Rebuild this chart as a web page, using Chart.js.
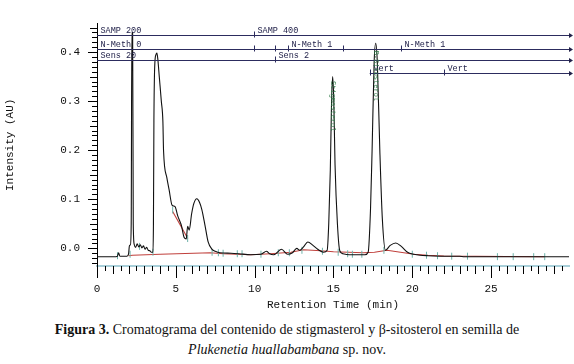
<!DOCTYPE html>
<html>
<head>
<meta charset="utf-8">
<script src="https://cdn.jsdelivr.net/npm/chart.js@4.4.1/dist/chart.umd.min.js"></script>
<style>
  body { margin: 0; background: #fff; }
  #wrap { position: relative; width: 574px; height: 364px; }
  #box { position: absolute; left: 0; top: 0; width: 574px; height: 318px; }
  #caption {
    position: absolute; left: 0; top: 320px; width: 574px;
    text-align: center; font: 14px "Liberation Serif", serif; line-height: 20px; color: #111;
  }
</style>
</head>
<body>
<div id="wrap">
  <div id="box"><canvas id="chroma"></canvas></div>
  <div id="caption">
    <div><b>Figura 3.</b> Cromatograma del contenido de stigmasterol y β-sitosterol en semilla de</div>
    <div><i>Plukenetia huallabambana</i> sp. nov.</div>
  </div>
</div>
<script>

// ----------------- DATA ----------------------------------------------------

// detector trace: retention time (min) and intensity (AU)
const traceTime = [0, 1.2, 1.3, 1.37, 1.45, 1.9, 2.0, 2.06, 2.12, 2.17, 2.21, 2.26, 2.3, 2.36, 2.45, 2.55, 2.65, 2.75, 2.85, 2.95, 3.05, 3.15, 3.25, 3.35, 3.45,
  3.55, 3.58, 3.61, 3.66, 3.74, 3.80, 3.86, 3.95, 4.08, 4.18, 4.22, 4.43, 4.57, 4.76, 4.95, 5.12, 5.35, 5.53, 5.66, 5.75, 5.85, 6.0, 6.15, 6.33, 6.5, 6.65, 6.85, 7.05, 7.3, 7.5,
  7.8, 8.5, 9.0, 9.75, 10.4, 10.75, 10.95, 11.2, 11.7, 12.1, 12.4, 12.67, 12.86, 13.1, 13.37, 13.7, 14.0, 14.37,
  14.6, 14.7, 14.8, 14.88, 14.95, 15.02, 15.1, 15.25, 15.4, 15.6, 16.0, 16.5, 17.0,
  17.2, 17.35, 17.45, 17.58, 17.68, 17.78, 17.94, 18.1, 18.3, 18.6, 18.95, 19.3, 19.7, 20.1, 20.5, 21.0, 22.0, 23.0, 23.3, 29.94];
const traceAU = [-0.017, -0.017, -0.016, -0.009, -0.016, -0.016, -0.012, 0.006, 0.007, 0.05, 0.44, 0.44, 0.05, 0.008, 0.002, 0.009, 0.003, 0.007, 0.001, 0.005, -0.002, 0.002, -0.004, -0.005, -0.008,
  -0.008, 0.05, 0.26, 0.37, 0.395, 0.398, 0.385, 0.35, 0.3, 0.258, 0.2, 0.144, 0.12, 0.088, 0.085, 0.066, 0.047, 0.022, 0.019, 0.045, 0.037, 0.07, 0.092, 0.101, 0.094, 0.079, 0.047, 0.013, -0.002, -0.006,
  -0.009, -0.01, -0.011, -0.013, -0.012, -0.006, -0.011, -0.013, -0.002, -0.012, -0.009, 0.0, -0.004, 0.003, 0.013, 0.006, -0.002, -0.008,
  -0.004, 0.05, 0.16, 0.3, 0.35, 0.3, 0.17, 0.05, -0.005, -0.011, -0.013, -0.013, -0.013,
  -0.008, 0.08, 0.2, 0.38, 0.418, 0.38, 0.2, 0.06, -0.004, 0.006, 0.011, 0.004, -0.008, -0.012, -0.014, -0.015, -0.016, -0.016, -0.017, -0.017];

// integration baseline (red) and the tangent skim under the shoulder
const baseTime = [2.0, 2.25, 4.0, 7.2, 8.0, 9.75, 11.0, 12.3, 13.1, 14.2, 15.0, 16.9, 17.6, 18.4, 20.1, 21.0, 22.0, 24.0, 26.0, 28.4];
const baseAU = [-0.015, -0.014, -0.012, -0.009, -0.011, -0.013, -0.011, -0.008, -0.003, -0.005, -0.007, -0.009, -0.008, -0.004, -0.012, -0.014, -0.0155, -0.016, -0.0165, -0.017];
const skimTime = [4.8, 5.76];
const skimAU = [0.075, 0.02];

// peak start / end marks
const markTime = [1.3, 2.1, 2.7, 3.55, 4.8, 5.75, 7.3, 7.7, 8.0, 8.9, 9.2, 10.4, 11.5, 12.2, 13.0, 14.3, 15.3, 15.9, 16.2, 16.8, 18.2, 20.0, 20.9, 21.6, 22.5, 23.5, 25.4, 26.4, 27.7, 28.4];
const markAU = [-0.015, -0.012, 0.004, -0.008, 0.078, 0.02, -0.008, -0.009, -0.01, -0.011, -0.011, -0.012, -0.009, -0.009, -0.004, -0.006, -0.008, -0.011, -0.012, -0.012, -0.004, -0.012, -0.014, -0.015, -0.016, -0.016, -0.017, -0.017, -0.017, -0.017];

// peak names written down the two sterol peaks
const peakNames = ['Stigmasterol', 'B-Sitosterol'];
const peakTime = [14.95, 17.68];
const peakTopAU = [0.345, 0.407];

// timed events bars across the top
const eventRowAU = [0.434, 0.406, 0.383, 0.357];
const eventTime = [0, 9.94, 0, 9.94, 11.27, 12.1, 15.6, 19.3, 0, 11.27, 17.3, 22.0];
const eventRow = [0, 0, 1, 1, 1, 1, 1, 1, 2, 2, 3, 3];
const eventLabels = ['SAMP 200', 'SAMP 400', 'N-Meth 0', '', '', 'N-Meth 1', '', 'N-Meth 1', 'Sens 20', 'Sens 2', 'Vert', 'Vert'];

// axes
const xMin = 0, xMax = 29.94;
const yMin = -0.036, yMax = 0.458;
const xLabelStep = 5;
const yLabelStep = 0.1;

const MONO = '"Liberation Mono", "DejaVu Sans Mono", monospace';

function pts(xs, ys) {
    return xs.map((x, i) => ({ x: x, y: ys[i] }));
}

// ----------------- PLUGINS ------------------------------------------------

// tick marks of three lengths, drawn on the library's scales
const tickMarks = {
    id: 'tickMarks',
    afterDraw(chart) {
        const { ctx, chartArea, scales: { x, y } } = chart;
        ctx.save();
        ctx.strokeStyle = '#000';
        ctx.lineWidth = 1;
        ctx.beginPath();
        for (let i = 0; i * 0.5 <= xMax; i++) {
            const px = Math.round(x.getPixelForValue(i * 0.5)) + 0.5;
            const len = i % 10 === 0 ? 12 : (i % 2 === 0 ? 8 : 5);
            ctx.moveTo(px, chartArea.bottom);
            ctx.lineTo(px, chartArea.bottom + len);
        }
        for (let j = Math.ceil(yMin * 100); j <= Math.floor(yMax * 100); j++) {
            const py = Math.round(y.getPixelForValue(j / 100)) + 0.5;
            const len = j % 10 === 0 ? 9 : (j % 5 === 0 ? 7 : 5);
            ctx.moveTo(chartArea.left - len, py);
            ctx.lineTo(chartArea.left, py);
        }
        ctx.stroke();
        ctx.restore();
    }
};

// event bars with arrows, and the green peak names
const eventBars = {
    id: 'eventBars',
    afterDatasetsDraw(chart) {
        const { ctx, chartArea, scales: { x, y } } = chart;
        ctx.save();
        ctx.strokeStyle = '#2c2c5e';
        ctx.fillStyle = '#22224a';
        ctx.lineWidth = 1;
        ctx.font = '8.5px ' + MONO;
        ctx.textBaseline = 'bottom';

        eventRowAU.forEach((v, r) => {
            const py = Math.round(y.getPixelForValue(v)) + 0.5;
            const starts = eventTime.filter((t, i) => eventRow[i] === r);
            const x0 = x.getPixelForValue(Math.min(...starts));
            const x1 = chartArea.right + 2;
            ctx.beginPath();
            ctx.moveTo(x0, py);
            ctx.lineTo(x1, py);
            ctx.stroke();
            ctx.beginPath();
            ctx.moveTo(x1 + 2, py);
            ctx.lineTo(x1 - 2, py - 2.5);
            ctx.lineTo(x1 - 2, py + 2.5);
            ctx.closePath();
            ctx.fill();
        });

        eventTime.forEach((t, i) => {
            const py = Math.round(y.getPixelForValue(eventRowAU[eventRow[i]])) + 0.5;
            const px = Math.round(x.getPixelForValue(t)) + 0.5;
            if (t > 0) {
                ctx.beginPath();
                ctx.moveTo(px, py - 4);
                ctx.lineTo(px, py + 2);
                ctx.stroke();
            }
            if (eventLabels[i]) {
                ctx.fillText(eventLabels[i], px + 3, py - 1);
            }
        });

        // peak names, running down the peak
        ctx.fillStyle = '#2f7a48';
        ctx.font = '7px ' + MONO;
        ctx.textBaseline = 'middle';
        peakNames.forEach((name, i) => {
            const px = x.getPixelForValue(peakTime[i]);
            const py = y.getPixelForValue(peakTopAU[i]);
            ctx.save();
            ctx.translate(px, py + 2);
            ctx.rotate(Math.PI / 2);
            ctx.fillText(name, 0, 0);
            ctx.restore();
        });
        ctx.restore();
    }
};

// ----------------- THE CHART ------------------------------------------------

var chroma_ctx = document.getElementById('chroma').getContext('2d');
var chroma_chart = new Chart(chroma_ctx, {
    type: 'line',
    data: {
        datasets: [
            {
                label: 'Trace',
                data: pts(traceTime, traceAU),
                borderColor: '#111111',
                borderWidth: 1.1,
                pointRadius: 0,
                cubicInterpolationMode: 'monotone'
            },
            {
                label: 'Marks',
                data: pts(markTime, markAU),
                showLine: false,
                pointStyle: 'line',
                rotation: 90,
                pointRadius: 3.5,
                borderColor: '#6fb3aa',
                borderWidth: 1
            },
            {
                label: 'Baseline',
                data: pts(baseTime, baseAU),
                borderColor: '#c0403c',
                borderWidth: 1.1,
                pointRadius: 0
            },
            {
                label: 'Skim',
                data: pts(skimTime, skimAU),
                borderColor: '#c0403c',
                borderWidth: 1.1,
                pointRadius: 0
            }
        ]
    },
    options: {
        responsive: true,
        maintainAspectRatio: false,
        animation: false,
        layout: { padding: { top: 4, right: 4, bottom: 0, left: 0 } },
        plugins: {
            legend: { display: false },
            tooltip: { enabled: false }
        },
        scales: {
            x: {
                type: 'linear',
                min: xMin,
                max: xMax,
                grid: { display: false, drawTicks: false, tickLength: 0 },
                border: { display: true, color: '#a9cfd9', width: 2 },
                afterBuildTicks: axis => {
                    axis.ticks = axis.ticks.filter(t => Math.abs(t.value / xLabelStep - Math.round(t.value / xLabelStep)) < 1e-6);
                },
                afterFit: axis => { axis.height = 52; },
                ticks: {
                    stepSize: xLabelStep,
                    autoSkip: false,
                    maxRotation: 0,
                    padding: 16,
                    color: '#111',
                    font: { family: MONO, size: 11 },
                    callback: v => String(Math.round(v))
                },
                title: {
                    display: true,
                    text: 'Retention Time (min)',
                    color: '#111',
                    padding: { top: 0, bottom: 6.4 },
                    font: { family: MONO, size: 11 }
                }
            },
            y: {
                min: yMin,
                max: yMax,
                grid: { display: false, drawTicks: false, tickLength: 0 },
                border: { display: true, color: '#000', width: 1 },
                afterBuildTicks: axis => {
                    axis.ticks = axis.ticks.filter(t => t.value > -1e-6 && Math.abs(t.value / yLabelStep - Math.round(t.value / yLabelStep)) < 1e-6);
                },
                afterFit: axis => { axis.width = 97; },
                ticks: {
                    stepSize: yLabelStep,
                    padding: 17,
                    color: '#111',
                    font: { family: MONO, size: 11 },
                    callback: v => v.toFixed(1)
                },
                title: {
                    display: true,
                    text: 'Intensity (AU)',
                    color: '#111',
                    padding: { top: 3.4, bottom: 0 },
                    font: { family: MONO, size: 11 }
                }
            }
        }
    },
    plugins: [tickMarks, eventBars]
});
</script>
</body>
</html>
